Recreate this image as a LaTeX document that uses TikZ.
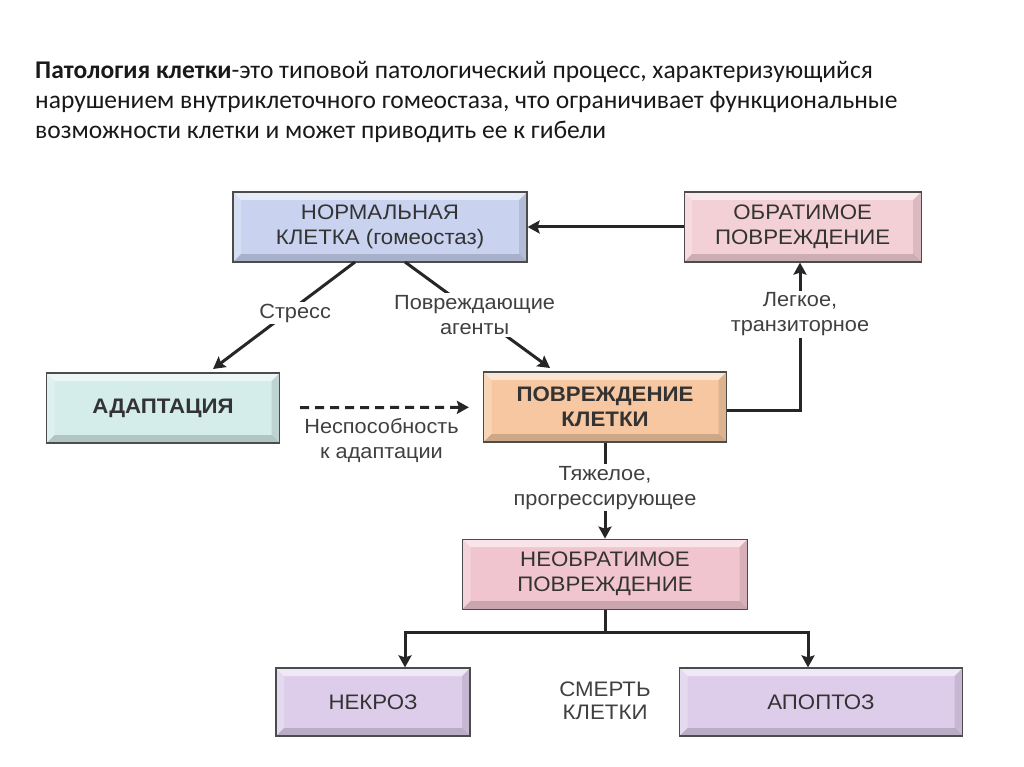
\documentclass[tikz,border=0pt]{standalone}
\usepackage{fontspec}
\usepackage{tikz}
\usetikzlibrary{arrows.meta, positioning}
\newfontfamily\diagfont[FakeStretch=1.06]{Liberation Sans}
\newfontfamily\titlefont{Carlito}
\definecolor{normfill}{RGB}{201,211,240}
\definecolor{revfill}{RGB}{243,207,214}
\definecolor{adaptfill}{RGB}{212,236,234}
\definecolor{injfill}{RGB}{246,199,160}
\definecolor{irrevfill}{RGB}{241,197,207}
\definecolor{deathfill}{RGB}{221,205,235}
\tikzset{
  bevel/.style={path picture={
    \coordinate (pnw) at (path picture bounding box.north west);
    \coordinate (pne) at (path picture bounding box.north east);
    \coordinate (psw) at (path picture bounding box.south west);
    \coordinate (pse) at (path picture bounding box.south east);
    \fill[white, opacity=.55] (pnw) -- (pne) -- ([shift={(-8pt,-8pt)}]pne) -- ([shift={(8pt,-8pt)}]pnw) -- cycle;
    \fill[white, opacity=.25] (pnw) -- (psw) -- ([shift={(8pt,8pt)}]psw) -- ([shift={(8pt,-8pt)}]pnw) -- cycle;
    \fill[black, opacity=.10] (pne) -- (pse) -- ([shift={(-8pt,8pt)}]pse) -- ([shift={(-8pt,-8pt)}]pne) -- cycle;
    \fill[black, opacity=.16] (psw) -- (pse) -- ([shift={(-8pt,8pt)}]pse) -- ([shift={(8pt,8pt)}]psw) -- cycle;
  }}
}
\begin{document}
\begin{tikzpicture}[
    x=1pt, y=-1pt,
    box/.style={rectangle, draw=black!70, line width=1.2pt, fill=#1, bevel,
                minimum height=70pt, align=center, inner sep=0pt, text=black!80,
                font=\diagfont\fontsize{21}{25}\selectfont},
    lbl/.style={font=\diagfont\fontsize{20.5}{25}\selectfont, text=black!75,
                align=center, fill=white, inner sep=2pt},
    conn/.style={line width=3pt, draw=black!85},
    arr/.style={conn, -{Stealth[length=12pt, width=13pt, inset=2pt]}}
]
\useasboundingbox (0,0) rectangle (1024,767);

% title
\node[anchor=north west, align=left, inner sep=0pt, text=black!90,
      font=\titlefont\fontsize{25.5}{30}\selectfont] (title) at (35,61)
  {\textbf{Патология клетки}-это типовой патологический процесс, характеризующийся\\
   нарушением внутриклеточного гомеостаза, что ограничивает функциональные\\
   возможности клетки и может приводить ее к гибели};

% boxes
\node[box=normfill, minimum width=294pt] (normal) at (380,227) {НОРМАЛЬНАЯ\\КЛЕТКА (гомеостаз)};
\node[box=revfill, minimum width=237pt, right=156pt of normal] (rev) {ОБРАТИМОЕ\\ПОВРЕЖДЕНИЕ};
\node[box=adaptfill, minimum width=233pt] (adapt) at (163,408) {\textbf{АДАПТАЦИЯ}};
\node[box=injfill, minimum width=243pt] (injury) at (605,407) {\textbf{ПОВРЕЖДЕНИЕ}\\\textbf{КЛЕТКИ}};
\node[box=irrevfill, minimum width=285pt, below=96pt of injury] (irrev) {НЕОБРАТИМОЕ\\ПОВРЕЖДЕНИЕ};
\node[box=deathfill, minimum width=194pt, minimum height=68pt] (necro) at (373,702) {НЕКРОЗ};
\node[box=deathfill, minimum width=283pt, minimum height=68pt] (apop) at (821,702) {АПОПТОЗ};
\node[lbl, fill=none, font=\diagfont\fontsize{21}{23}\selectfont] (death) at (605,701) {СМЕРТЬ\\КЛЕТКИ};

% connectors
\coordinate (stressA) at (355,262);
\coordinate (stressB) at (213,369);
\coordinate (agentA) at (405,262);
\coordinate (agentB) at (550,368);
\draw[arr] (stressA) -- (stressB) node[lbl, pos=0.45, xshift=4pt, yshift=-3pt] {Стресс};
\draw[arr] (agentA) -- (agentB) node[lbl, pos=0.48, yshift=-2pt] {Повреждающие\\агенты};
\draw[arr] (rev) -- (normal);
\draw[arr, dashed, dash pattern=on 9pt off 6pt, shorten <=20pt, shorten >=14pt]
  (adapt) -- (injury) node[lbl, midway, below=7pt] {Неспособность\\к адаптации};

\coordinate (upturn) at (800,410);
\draw[arr] (injury.east |- upturn) -- (upturn) -- (rev.south -| upturn)
  node[lbl, pos=0.67, yshift=-3pt] {Легкое,\\транзиторное};
\draw[arr] (injury) -- (irrev) node[lbl, midway, yshift=3pt] {Тяжелое,\\прогрессирующее};

\coordinate (forkL) at (405,632);
\coordinate (forkR) at (808,632);
\draw[arr] (irrev.south) |- (forkL) -- (forkL |- necro.north);
\draw[arr] (irrev.south) |- (forkR) -- (forkR |- apop.north);
\end{tikzpicture}
\end{document}
